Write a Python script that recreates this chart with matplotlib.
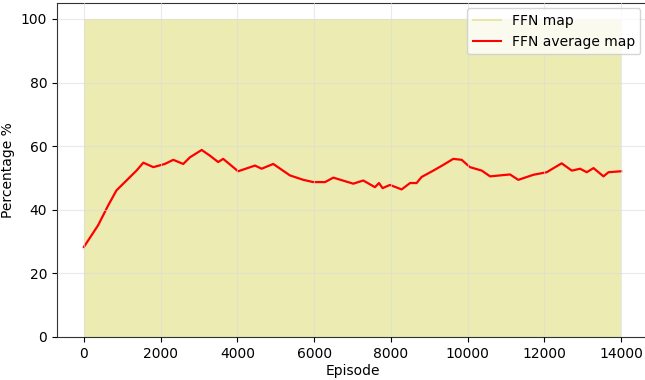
#! /usr/bin/env python3

# plot success rate of the FFN agent over training episodes

import matplotlib
matplotlib.use("Agg")
import matplotlib.pyplot as plt
from matplotlib.lines import Line2D

# raw per-episode map result spans the whole 0-100 band
map_episodes = [0, 14000]
map_low = [0, 0]
map_high = [100, 100]

# running average of the map result
avg_episodes = [
    0, 370, 635, 850, 1110, 1370, 1550, 1810, 2110, 2330, 2590, 2765,
    3070, 3285, 3500, 3630, 4020, 4460, 4630, 4935, 5370, 5720, 5980,
    6285, 6500, 7020, 7280, 7585, 7690, 7785, 7975, 8280, 8500, 8670,
    8800, 9105, 9365, 9625, 9845, 10060, 10370, 10585, 11105, 11320,
    11715, 12060, 12450, 12715, 12930, 13105, 13280, 13540, 13670, 14000,
]
avg_values = [
    28.3, 35.1, 41.4, 46.1, 49.2, 52.3, 54.8, 53.4, 54.4, 55.7, 54.4, 56.5,
    58.8, 57.0, 55.0, 56.0, 52.1, 53.9, 52.9, 54.4, 50.8, 49.4, 48.7,
    48.7, 50.1, 48.2, 49.2, 47.1, 48.4, 46.8, 47.8, 46.4, 48.4, 48.4,
    50.3, 52.3, 54.1, 56.0, 55.7, 53.4, 52.3, 50.5, 51.1, 49.4,
    51.0, 51.8, 54.6, 52.3, 52.9, 51.8, 53.1, 50.5, 51.8, 52.1,
]

fig = plt.figure(figsize=(6.45, 3.8), dpi=100)
ax = fig.add_axes([57 / 645, 43 / 380, 591 / 645, 334 / 380])

ax.fill_between(map_episodes, map_low, map_high, color="y", alpha=0.3, lw=0)
ax.plot(avg_episodes, avg_values, color="red", lw=1.6)

ax.set_xlim(-700, 14700)
ax.set_ylim(0, 105)
ax.set_xticks(range(0, 14001, 2000))
ax.set_yticks(range(0, 101, 20))
ax.tick_params(labelsize=10)
ax.set_xlabel("Episode", fontsize=10, labelpad=2)
ax.set_ylabel("Percentage %", fontsize=10)
ax.grid(color="#dddddd", lw=0.8, alpha=0.6)
ax.set_axisbelow(False)
for s in ax.spines.values():
    s.set_color("#333333")

handles = [
    Line2D([], [], color="y", alpha=0.3, lw=1.5),
    Line2D([], [], color="red", lw=1.5),
]
ax.legend(handles, ["FFN map", "FFN average map"], loc="upper right",
          bbox_to_anchor=(0.999, 1.005), fontsize=10)

fig.savefig("out.png", dpi=100)
